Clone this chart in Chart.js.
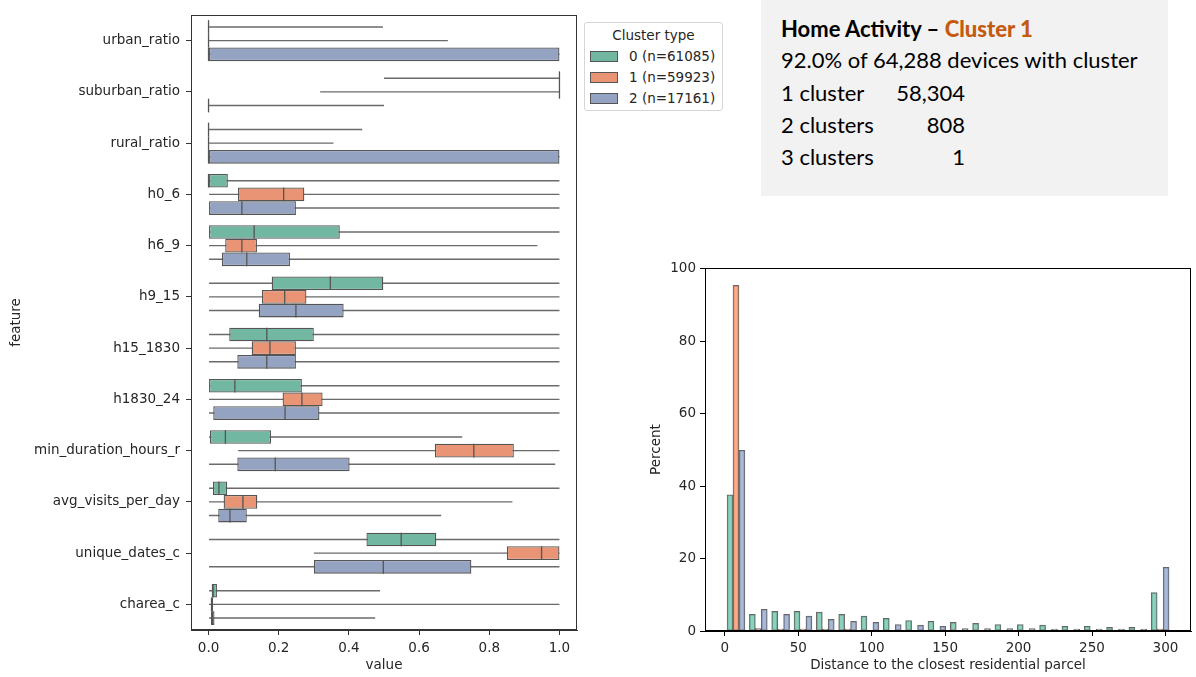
<!DOCTYPE html>
<html>
<head>
<meta charset="utf-8">
<script src="https://cdn.jsdelivr.net/npm/chart.js"></script>
<style>
  body { margin: 0; background: #fff; width: 1196px; height: 677px; position: relative; overflow: hidden; }
  canvas { position: absolute; }
  #boxCanvas { left: 0; top: 0; }
  #histCanvas { left: 620px; top: 240px; }
  .legend {
    position: absolute; left: 584px; top: 22px; width: 137px; height: 87px;
    border: 1px solid #d6d6d6; border-radius: 3px; background: #fff;
    font-family: 'DejaVu Sans', sans-serif; font-size: 13.5px; color: #262626;
  }
  .legend .ttl { text-align: center; margin-top: 2px; height: 21px; line-height: 21px; }
  .legend .row { height: 21px; line-height: 21px; display: flex; align-items: center; }
  .legend .sw { width: 26px; height: 9px; margin-left: 5px; margin-right: 11px; border: 1px solid #555; }
  .info {
    position: absolute; left: 761px; top: 0; width: 407px; height: 196px; background: #f2f2f2;
    font-family: Lato, 'Open Sans', sans-serif; font-size: 22px; color: #000;
  }
  .info .ln { position: absolute; left: 20px; height: 32px; line-height: 32px; white-space: nowrap; }
  .info b.hl { color: #c55a11; }
  .info .lbl { display: inline-block; width: 112px; }
  .info .num { display: inline-block; width: 72px; text-align: right; }
</style>
</head>
<body>
<canvas id="boxCanvas" width="600" height="677"></canvas>
<canvas id="histCanvas" width="576" height="437"></canvas>

<div class="legend" id="legend"><div class="ttl">Cluster type</div></div>

<div class="info">
  <div class="ln" style="top:13px"><b>Home Activity – <b class="hl">Cluster 1</b></b></div>
  <div class="ln" style="top:44px">92.0% of 64,288 devices with cluster</div>
  <div class="ln" style="top:77px"><span class="lbl">1 cluster</span><span class="num">58,304</span></div>
  <div class="ln" style="top:109px"><span class="lbl">2 clusters</span><span class="num">808</span></div>
  <div class="ln" style="top:141px"><span class="lbl">3 clusters</span><span class="num">1</span></div>
</div>

<script>
// ---- boxplot data (per feature, per cluster) ----
const features = ['urban_ratio', 'suburban_ratio', 'rural_ratio', 'h0_6', 'h6_9', 'h9_15',
  'h15_1830', 'h1830_24', 'min_duration_hours_r', 'avg_visits_per_day', 'unique_dates_c', 'charea_c'];

const clusterNames = ['0 (n=61085)', '1 (n=59923)', '2 (n=17161)'];

// cluster 0
const c0Lo  = [0, 0.5, 0, 0, 0, 0, 0, 0, 0, 0, 0, 0];
const c0Q1  = [0, 1, 0, 0, 0, 0.180, 0.059, 0, 0.004, 0.0125, 0.450, 0.009];
const c0Med = [0, 1, 0, 0, 0.130, 0.347, 0.166, 0.075, 0.048, 0.0295, 0.549, 0.013];
const c0Q3  = [0, 1, 0, 0.055, 0.374, 0.498, 0.300, 0.266, 0.178, 0.053, 0.649, 0.024];
const c0Hi  = [0.497, 1, 0.438, 1, 1, 1, 1, 1, 0.723, 1, 1, 0.489];

// cluster 1
const c1Lo  = [0, 0.318, 0, 0, 0, 0, 0, 0, 0.0845, 0, 0.300, 0];
const c1Q1  = [0, 1, 0, 0.084, 0.0475, 0.152, 0.123, 0.211, 0.645, 0.043, 0.850, 0.006];
const c1Med = [0, 1, 0, 0.214, 0.095, 0.217, 0.175, 0.266, 0.756, 0.098, 0.949, 0.009];
const c1Q3  = [0, 1, 0, 0.273, 0.138, 0.279, 0.249, 0.325, 0.870, 0.139, 1, 0.013];
const c1Hi  = [0.682, 1, 0.356, 1, 0.937, 1, 1, 1, 1, 0.866, 1, 1];

// cluster 2
const c2Lo  = [0, 0, 0, 0, 0, 0, 0, 0, 0, 0, 0, 0];
const c2Q1  = [0, 0, 0, 0, 0.038, 0.143, 0.082, 0.0134, 0.082, 0.0276, 0.300, 0.007];
const c2Med = [0, 0, 0, 0.095, 0.109, 0.249, 0.166, 0.218, 0.190, 0.061, 0.498, 0.011];
const c2Q3  = [1, 0, 1, 0.249, 0.232, 0.385, 0.249, 0.316, 0.402, 0.109, 0.749, 0.017];
const c2Hi  = [1, 0.5, 1, 1, 1, 1, 1, 1, 0.988, 0.663, 1, 0.475];

// ---- histogram data: percent per distance bin ----
const binEdges = [0, 15.2, 30.4, 45.6, 60.8, 76, 91.2, 106.4, 121.6, 136.8, 152, 167.2,
  182.4, 197.6, 212.8, 228, 243.2, 258.4, 273.6, 288.8, 304];
const distPct0 = [37.6, 4.6, 5.4, 5.4, 5.2, 4.6, 4.1, 3.5, 2.9, 2.7, 2.4, 2.1, 1.8, 1.8, 1.6, 1.3, 1.3, 1.0, 1.0, 10.6];
const distPct1 = [95.4, 0.7, 0.5, 0.5, 0.5, 0.5, 0.2, 0.2, 0.2, 0.1, 0.1, 0.1, 0.1, 0.1, 0.1, 0.1, 0.1, 0.1, 0.1, 0.5];
const distPct2 = [49.9, 6.0, 4.6, 4.1, 3.2, 2.7, 2.4, 1.8, 1.6, 1.3, 0.7, 0.7, 0.7, 0.7, 0.5, 0.5, 0.5, 0.5, 0.5, 17.6];

const yTicks = [0, 20, 40, 60, 80, 100];

// colours
const boxColors  = ['#71b7a1', '#e99575', '#95a3c3'];
const histColors = ['rgba(102,194,165,0.75)', 'rgba(252,141,98,0.75)', 'rgba(141,160,203,0.75)'];
const edgeGray = '#555555';
const textColor = '#262626';
const tickFont = { family: 'DejaVu Sans', size: 13.5 };

const stats = [
  { lo: c0Lo, q1: c0Q1, med: c0Med, q3: c0Q3, hi: c0Hi },
  { lo: c1Lo, q1: c1Q1, med: c1Med, q3: c1Q3, hi: c1Hi },
  { lo: c2Lo, q1: c2Q1, med: c2Med, q3: c2Q3, hi: c2Hi }
];

// legend entries
const legendEl = document.getElementById('legend');
clusterNames.forEach((name, i) => {
  legendEl.insertAdjacentHTML('beforeend',
    `<div class="row"><span class="sw" style="background:${boxColors[i]}"></span><span>${name}</span></div>`);
});

// frame around the plot area (all four spines)
const framePlugin = {
  id: 'frame',
  afterDraw(chart, args, opts) {
    const { ctx, chartArea: a } = chart;
    ctx.save();
    ctx.strokeStyle = opts.color || '#000';
    ctx.lineWidth = 1;
    ctx.strokeRect(Math.round(a.left) + 0.5, Math.round(a.top) + 0.5,
      Math.round(a.right - a.left) - 1, Math.round(a.bottom - a.top) - 1);
    ctx.restore();
  }
};

// median line across each box
const medianPlugin = {
  id: 'medians',
  afterDatasetsDraw(chart) {
    const { ctx } = chart;
    const xScale = chart.scales.x;
    ctx.save();
    ctx.strokeStyle = edgeGray;
    ctx.lineWidth = 1.3;
    chart.data.datasets.forEach((ds, di) => {
      if (ds.kind !== 'box') return;
      const meta = chart.getDatasetMeta(di);
      meta.data.forEach((bar, i) => {
        const x = xScale.getPixelForValue(stats[ds.cluster].med[i]);
        ctx.beginPath();
        ctx.moveTo(x, bar.y - bar.height / 2);
        ctx.lineTo(x, bar.y + bar.height / 2);
        ctx.stroke();
      });
    });
    ctx.restore();
  }
};

// boxes (q1..q3) on top, whiskers (lo..hi) underneath in the same slot
const boxDatasets = [];
stats.forEach((s, k) => {
  boxDatasets.push({
    kind: 'box', cluster: k, label: clusterNames[k], stack: 'c' + k, order: 0,
    data: s.q1.map((v, i) => [v, s.q3[i]]),
    backgroundColor: boxColors[k], borderColor: edgeGray, borderWidth: 1.3,
    borderSkipped: false, barPercentage: 1, categoryPercentage: 0.8
  });
});
stats.forEach((s, k) => {
  boxDatasets.push({
    kind: 'whisker', cluster: k, stack: 'c' + k, order: 1,
    data: s.lo.map((v, i) => [v, s.hi[i]]),
    backgroundColor: '#6a6a6a', borderWidth: 0,
    barPercentage: 0.1, categoryPercentage: 0.8
  });
});

new Chart(document.getElementById('boxCanvas'), {
  type: 'bar',
  data: { labels: features, datasets: boxDatasets },
  options: {
    indexAxis: 'y',
    responsive: false,
    animation: false,
    devicePixelRatio: 1,
    layout: { padding: { top: 15, right: 23, left: 0, bottom: 0 } },
    plugins: { legend: { display: false }, tooltip: { enabled: false }, frame: { color: '#333' } },
    scales: {
      x: {
        type: 'linear', min: -0.05, max: 1.05, stacked: false,
        ticks: { stepSize: 0.2, includeBounds: false, color: textColor, font: tickFont, padding: 5,
          callback: v => v.toFixed(1) },
        grid: { drawOnChartArea: false, tickLength: 5, color: '#333' },
        border: { color: '#333' },
        title: { display: true, text: 'value', color: textColor, font: tickFont, padding: { top: 0, bottom: 3 } },
        afterFit(s) { s.height = 47; }
      },
      y: {
        type: 'category', offset: true,
        ticks: { color: textColor, font: tickFont, padding: 6 },
        grid: { offset: false, drawOnChartArea: false, tickLength: 5, color: '#333' },
        border: { color: '#333' },
        title: { display: true, text: 'feature', color: textColor, font: tickFont, padding: { top: 8, bottom: 0 } },
        afterFit(s) { s.width = 191; }
      }
    }
  },
  plugins: [framePlugin, medianPlugin]
});

// ---- dodged histogram ----
const histDatasets = [distPct0, distPct1, distPct2].map((vals, k) => ({
  label: clusterNames[k],
  data: vals.map((v, i) => {
    const w = binEdges[i + 1] - binEdges[i];
    const sub = w * 0.8 / 3;
    return { x: binEdges[i] + w * 0.1 + sub * (k + 0.5), y: v };
  }),
  backgroundColor: histColors[k],
  borderColor: 'rgba(0,0,0,0.6)',
  borderWidth: 1,
  borderSkipped: false,
  grouped: false,
  barPercentage: 1,
  categoryPercentage: 1
}));

new Chart(document.getElementById('histCanvas'), {
  type: 'bar',
  data: { datasets: histDatasets },
  options: {
    responsive: false,
    animation: false,
    devicePixelRatio: 1,
    layout: { padding: { top: 28, right: 5, left: 0, bottom: 0 } },
    plugins: { legend: { display: false }, tooltip: { enabled: false }, frame: { color: '#000' } },
    scales: {
      x: {
        type: 'linear', min: -13.5, max: 317.4, offset: false,
        ticks: { stepSize: 50, includeBounds: false, color: textColor, font: tickFont, padding: 4 },
        grid: { offset: false, drawOnChartArea: false, tickLength: 5, color: '#000' },
        border: { color: '#000' },
        title: { display: true, text: 'Distance to the closest residential parcel', color: textColor,
          font: tickFont, padding: { top: 0, bottom: 3.5 } },
        afterFit(s) { s.height = 46; }
      },
      y: {
        type: 'linear', min: 0, max: 100.2,
        afterBuildTicks(s) { s.ticks = yTicks.map(v => ({ value: v })); },
        ticks: { color: textColor, font: tickFont, padding: 4 },
        grid: { drawOnChartArea: false, tickLength: 5, color: '#000' },
        border: { color: '#000' },
        title: { display: true, text: 'Percent', color: textColor, font: tickFont, padding: { top: 28, bottom: 0 } },
        afterFit(s) { s.width = 85; }
      }
    }
  },
  plugins: [framePlugin]
});
</script>
</body>
</html>
